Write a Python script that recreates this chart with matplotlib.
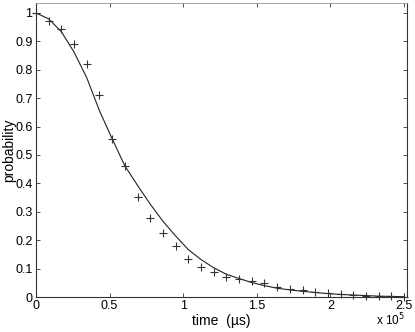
import matplotlib
matplotlib.use("Agg")
import matplotlib.pyplot as plt
from matplotlib.ticker import FuncFormatter

plt.rcParams['font.family'] = ['Liberation Sans', 'DejaVu Sans']
plt.rcParams['font.size'] = 9

# time (us) at the sampled points
t = [0.0, 8621, 17241, 25862, 34483, 43103, 51724, 60345, 68966, 77586,
     86207, 94828, 103448, 112069, 120690, 129310, 137931, 146552, 155172, 163793,
     172414, 181034, 189655, 198276, 206897, 215517, 224138, 232759, 241379, 250000]

# measured probability (+ markers)
p_meas = [1.0, 0.972, 0.945, 0.889, 0.820, 0.711, 0.556, 0.462, 0.353, 0.279,
          0.227, 0.180, 0.133, 0.106, 0.088, 0.070, 0.064, 0.056, 0.051, 0.035,
          0.029, 0.023, 0.017, 0.015, 0.009, 0.007, 0.005, 0.003, 0.002, 0.001]

# model curve
p_model = [1.0, 0.979, 0.934, 0.862, 0.772, 0.656, 0.557, 0.462, 0.393, 0.327,
           0.267, 0.215, 0.167, 0.132, 0.103, 0.080, 0.065, 0.051, 0.040, 0.031,
           0.025, 0.020, 0.016, 0.012, 0.009, 0.007, 0.005, 0.003, 0.002, 0.001]

xticks = [0, 50000, 100000, 150000, 200000, 250000]
yticks = [0, 0.1, 0.2, 0.3, 0.4, 0.5, 0.6, 0.7, 0.8, 0.9, 1.0]

fig = plt.figure(figsize=(4.15, 3.32), dpi=100)
ax = fig.add_axes([0.0867, 0.1054, 0.8940, 0.8856])

ax.plot(t, p_model, color='#222222', linewidth=0.8)
ax.plot(t, p_meas, linestyle='none', marker='+', markersize=5.5,
        markeredgewidth=0.8, color='#333333', clip_on=False)

ax.set_xlim(0, 252000)
ax.set_ylim(0, 1.035)
ax.set_xticks(xticks)
ax.set_yticks(yticks)
ax.xaxis.set_major_formatter(FuncFormatter(lambda v, pos: f"{v/1e5:g}"))
ax.yaxis.set_major_formatter(FuncFormatter(lambda v, pos: f"{v:g}"))
ax.tick_params(direction='in', length=3, width=0.6, top=True, right=True,
               pad=2.5, colors='#333333', labelcolor='black')

for side in ['left', 'bottom', 'right']:
    ax.spines[side].set_color('#333333')
    ax.spines[side].set_linewidth(0.8)
ax.spines['top'].set_color('#999999')
ax.spines['top'].set_linewidth(0.6)

ax.set_xlabel('time  (\u00b5s)', fontsize=10, labelpad=1)
ax.set_ylabel('probability', fontsize=10, labelpad=-1)
fig.text(0.976, 0.012, r'x 10$^5$', ha='right', va='bottom', fontsize=8.5)

fig.savefig('out.png', dpi=100)
